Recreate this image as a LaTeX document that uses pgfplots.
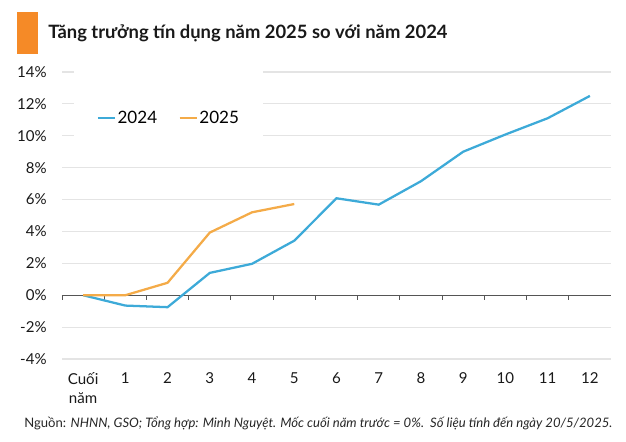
\documentclass[border=0pt]{standalone}
\usepackage{fontspec}
\setmainfont{Lato}
\usepackage{pgfplots}
\pgfplotsset{compat=1.18}
\definecolor{c24}{HTML}{3DAAD8}
\definecolor{c25}{HTML}{F4AB48}
\definecolor{corg}{HTML}{F58A27}
\definecolor{gridc}{HTML}{E4E4E4}
\definecolor{axc}{HTML}{555555}
\begin{document}
\begin{tikzpicture}
\useasboundingbox (-46.5pt,-62.25pt) rectangle (423pt,269.25pt);
\fill[corg] (-33.75pt,228.75pt) rectangle (-18pt,260.25pt);
\node[anchor=base west, inner sep=0pt, font=\fontsize{13.8}{16}\selectfont\bfseries, text=black!90] at (-10.5pt,240pt) {Tăng trưởng tín dụng năm 2025 so với năm 2024};
\node[anchor=base west, inner sep=0pt, font=\fontsize{9.8}{12}\selectfont, text=black!85] at (-28.5pt,-51.75pt) {Nguồn: \textit{NHNN, GSO; Tổng hợp: Minh Nguyệt. Mốc cuối năm trước = 0\%.\ \ Số liệu tính đến ngày 20/5/2025.}};
\begin{axis}[
  at={(0pt,0pt)}, anchor=south west,
  scale only axis, width=411.75pt, height=215.25pt,
  xmin=-0.5, xmax=12.5, ymin=-4, ymax=14,
  xtick={0,...,12},
  xticklabels={{Cuối\\năm},1,2,3,4,5,6,7,8,9,10,11,12},
  ytick={-4,-2,...,14},
  yticklabel={\pgfmathprintnumber{\tick}\%},
  /pgf/number format/assume math mode=true,
  axis line style={draw=none},
  major tick length=0pt,
  ymajorgrids,
  grid style={draw=gridc, line width=0.8pt},
  tick label style={font=\fontsize{11.3}{14}\selectfont, text=black!90},
  xticklabel style={align=center, anchor=north, yshift=-6.5pt},
  yticklabel style={anchor=east, xshift=-8pt},
  legend columns=2,
  legend style={at={(0.194,0.84)}, anchor=center, draw=none, fill=white,
    inner xsep=17pt, inner ysep=29pt, font=\fontsize{12.8}{15}\selectfont,
    /tikz/every even column/.append style={column sep=15pt},
    nodes={inner xsep=1pt}},
  legend image code/.code={\draw[#1] (0pt,0pt) -- (13pt,0pt);},
]
\addplot[draw=axc, line width=0.8pt, forget plot] coordinates {(-0.5,0) (12.5,0)};
\pgfplotsinvokeforeach{-0.5,0.5,...,12.5}{
  \draw[axc, line width=0.7pt] (axis cs:#1,0) -- ++(0pt,-3.75pt);
}
\addplot[c24, line width=1.7pt] coordinates {
(0,0) (1,-0.65) (2,-0.75) (3,1.4) (4,1.97) (5,3.42) (6,6.08) (7,5.68) (8,7.15) (9,9.0) (10,10.08) (11,11.1) (12,12.5)};
\addlegendentry{2024}
\addplot[c25, line width=1.7pt] coordinates {
(0,0) (1,0) (2,0.78) (3,3.93) (4,5.2) (5,5.72)};
\addlegendentry{2025}
\end{axis}
\end{tikzpicture}
\end{document}
